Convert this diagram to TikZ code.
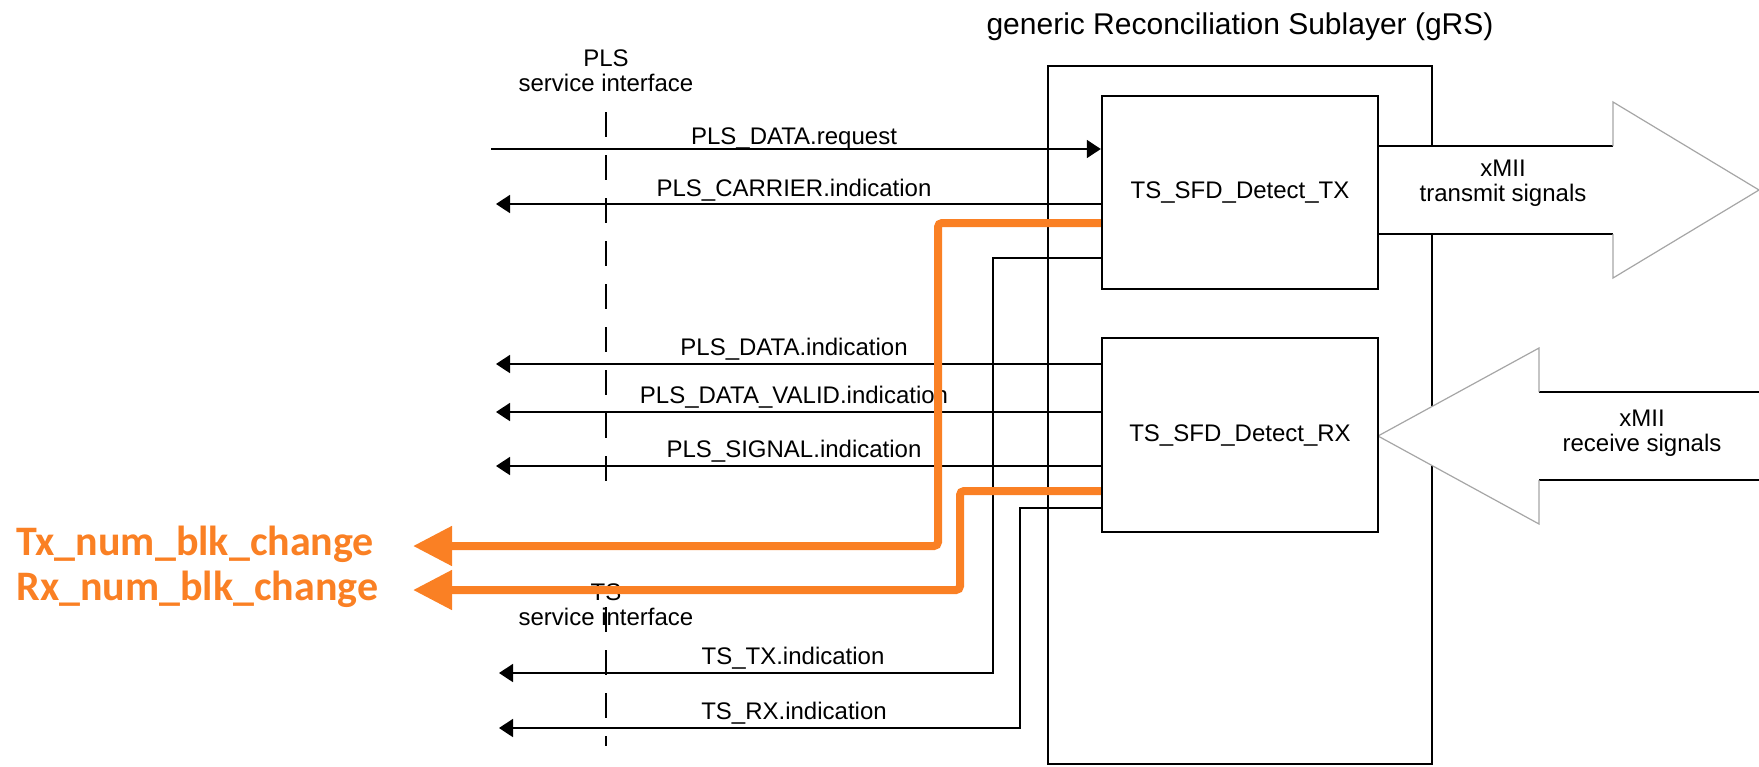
\documentclass[tikz,border=0pt]{standalone}
\usepackage{fontspec}
\setmainfont{Liberation Sans}
\newfontfamily\chgfont{Carlito}
\usetikzlibrary{arrows.meta}
\definecolor{chgorange}{RGB}{250,128,36}

\begin{document}
\begin{tikzpicture}[x = 0.5pt, y = -0.5pt,
  sig/.style = {line width = 0.9pt},
  sigtip/.style = {-{Triangle[length = 7pt, width = 9pt]}},
  detbox/.style = {draw, line width = 1.2pt, minimum width = 138pt, inner sep = 0pt, font = \fontsize{12}{12.5}\selectfont},
  lbl/.style = {anchor = base, inner sep = 0pt, font = \fontsize{12}{12.5}\selectfont},
  twolbl/.style = {anchor = north, inner sep = 0pt, align = center, font = \fontsize{12}{12.5}\selectfont},
  chg/.style = {draw = chgorange, line width = 4pt, rounded corners = 2pt, -{Triangle[length = 19.5pt, width = 19pt]}},
  chglbl/.style = {anchor = base west, inner sep = 0pt, text = chgorange, font = \chgfont\bfseries\fontsize{21}{24}\selectfont},
  iface/.style = {line width = 0.8pt, dash pattern = on 12.5pt off 9pt},
  headline/.style = {draw = gray!70, line width = 0.6pt}
]
\useasboundingbox (0,0) rectangle (1759,766);

% sublayer
\node[anchor = base, inner sep = 0pt, font = \fontsize{15}{18}\selectfont] (title) at (1240,34) {generic Reconciliation Sublayer (gRS)};
\node[draw, line width = 1.2pt, minimum width = 192pt, minimum height = 349pt, inner sep = 0pt] (grs) at (1240,415) {};

% xMII signals
\fill[white] (1378,146) -- (1613,146) -- (1613,102) -- (1759,190) -- (1613,278) -- (1613,234) -- (1378,234) -- cycle;
\draw[sig] (1378,146) -- (1613,146);
\draw[sig] (1378,234) -- (1613,234);
\draw[headline] (1613,146) -- (1613,102) -- (1759,190) -- (1613,278) -- (1613,234);
\node[twolbl] (txmii) at (1503,160) {xMII\\transmit signals};

\fill[white] (1378,436) -- (1539,348) -- (1539,392) -- (1759,392) -- (1759,480) -- (1539,480) -- (1539,524) -- cycle;
\draw[sig] (1539,392) -- (1759,392);
\draw[sig] (1539,480) -- (1759,480);
\draw[headline] (1539,392) -- (1539,348) -- (1378,436) -- (1539,524) -- (1539,480);
\node[twolbl] (rxmii) at (1642,410) {xMII\\receive signals};

\node[detbox, minimum height = 96.5pt] (txdet) at (1240,192.5) {TS\_SFD\_Detect\_TX};
\node[detbox, minimum height = 97pt] (rxdet) at (1240,435) {TS\_SFD\_Detect\_RX};

% service interfaces
\node[twolbl] (plsif) at (606,49) {PLS\\service interface};
\node[twolbl] (tsif) at (606,583) {TS\\service interface};
\draw[iface] (606,112) -- (606,488);
\draw[iface] (606,607) -- (606,746);

% PLS primitives
\coordinate (reqL) at (491,149);
\coordinate (carL) at (496,204);
\coordinate (datL) at (496,364);
\coordinate (valL) at (496,412);
\coordinate (sigL) at (496,466);
\draw[sig, sigtip] (reqL) -- (reqL -| txdet.west);
\draw[sig, sigtip] (carL -| txdet.west) -- (carL);
\draw[sig, sigtip] (datL -| rxdet.west) -- (datL);
\draw[sig, sigtip] (valL -| rxdet.west) -- (valL);
\draw[sig, sigtip] (sigL -| rxdet.west) -- (sigL);
\node[lbl] (reqtxt) at (794,144) {PLS\_DATA.request};
\node[lbl] (cartxt) at (794,196) {PLS\_CARRIER.indication};
\node[lbl] (dattxt) at (794,355) {PLS\_DATA.indication};
\node[lbl] (valtxt) at (794,403) {PLS\_DATA\_VALID.indication};
\node[lbl] (sigtxt) at (794,457) {PLS\_SIGNAL.indication};

% TS primitives
\coordinate (tstxL) at (499,673);
\coordinate (tsrxL) at (499,728);
\draw[sig, sigtip] (txdet.west |- 0,258) -- (993,258) |- (tstxL);
\draw[sig, sigtip] (rxdet.west |- 0,508) -- (1020,508) |- (tsrxL);
\node[lbl] (tstxtxt) at (793,664) {TS\_TX.indication};
\node[lbl] (tsrxtxt) at (794,719) {TS\_RX.indication};

% block change outputs
\coordinate (txchgL) at (413,546);
\coordinate (rxchgL) at (413,590);
\draw[chg] (txdet.west |- 0,223) -- (938,223) |- (txchgL);
\draw[chg] (rxdet.west |- 0,491) -- (960,491) |- (rxchgL);
\node[chglbl] (txchg) at (16,555) {Tx\_num\_blk\_change};
\node[chglbl] (rxchg) at (16,600) {Rx\_num\_blk\_change};
\end{tikzpicture}
\end{document}
